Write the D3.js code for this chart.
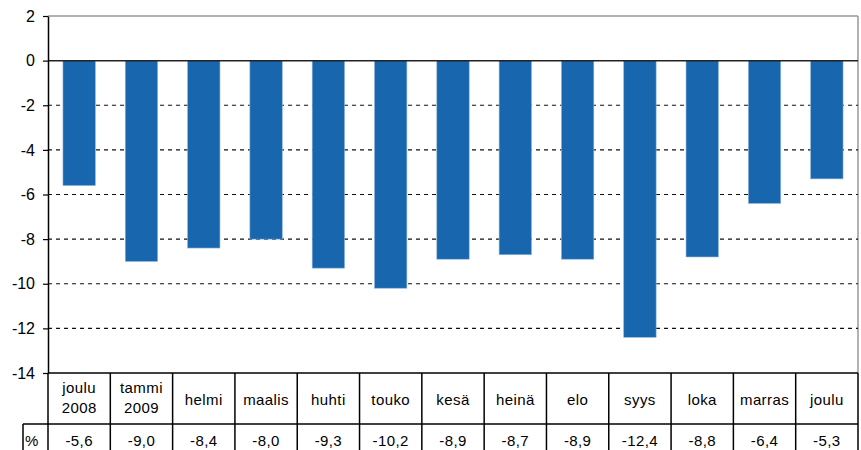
<!DOCTYPE html>
<html>
<head>
<meta charset="utf-8">
<script src="https://cdn.jsdelivr.net/npm/d3@7"></script>
<style>
  body { margin: 0; background: #fff; }
  text { font-family: "Liberation Sans", Arial, sans-serif; }
</style>
</head>
<body>
<div id="chart"></div>
<script>
// data
var months = ['joulu\n2008', 'tammi\n2009', 'helmi', 'maalis', 'huhti', 'touko', 'kesä', 'heinä', 'elo', 'syys', 'loka', 'marras', 'joulu'];
var values = [-5.6, -9.0, -8.4, -8.0, -9.3, -10.2, -8.9, -8.7, -8.9, -12.4, -8.8, -6.4, -5.3];
var yTicks = [2, 0, -2, -4, -6, -8, -10, -12, -14];
var rowLabel = '%';

var W = 861, H = 450;
var plotL = 48, plotR = 858, plotT = 16, plotB = 373;
var row1 = 424;

var svg = d3.select('#chart')
    .append('svg')
    .attr('width', W)
    .attr('height', H);

var x = d3.scaleBand()
    .domain(months)
    .range([plotL, plotR])
    .paddingInner(0.48)
    .paddingOuter(0.24);

var y = d3.scaleLinear()
    .domain([-14, 2])
    .range([plotB, plotT]);

var step = x.step();
function cellLeft(d) { return x(d) - step * x.paddingInner() / 2; }

// plot frame (top + right, gray)
svg.append('line')
    .attr('x1', plotL).attr('x2', plotR)
    .attr('y1', y(2)).attr('y2', y(2))
    .attr('stroke', '#999').attr('stroke-width', 1.5);
svg.append('line')
    .attr('x1', plotR).attr('x2', plotR)
    .attr('y1', y(2)).attr('y2', y(-14))
    .attr('stroke', '#999').attr('stroke-width', 1.5);

// dashed gridlines
svg.selectAll('.grid')
    .data(yTicks.filter(function (d) { return d < 0 && d > -14; }))
    .enter()
    .append('line')
    .attr('class', 'grid')
    .attr('x1', plotL).attr('x2', plotR)
    .attr('y1', function (d) { return y(d); })
    .attr('y2', function (d) { return y(d); })
    .attr('stroke', '#111')
    .attr('stroke-width', 1.2)
    .attr('stroke-dasharray', '4,4');

// bars
svg.selectAll('rect.bar')
    .data(values)
    .enter()
    .append('rect')
    .attr('class', 'bar')
    .attr('x', function (d, i) { return x(months[i]); })
    .attr('y', y(0))
    .attr('width', x.bandwidth())
    .attr('height', function (d) { return y(d) - y(0); })
    .attr('fill', '#1866ae')
    .attr('stroke', '#8fb6dc')
    .attr('stroke-width', 0.6);

// zero line
svg.append('line')
    .attr('x1', plotL).attr('x2', plotR)
    .attr('y1', y(0)).attr('y2', y(0))
    .attr('stroke', '#222').attr('stroke-width', 1.5);

// y axis
var yAxis = svg.append('g')
    .attr('transform', 'translate(' + plotL + ',0)')
    .call(d3.axisLeft(y).tickValues(yTicks).tickSize(5).tickSizeOuter(0).tickFormat(function (d) { return d; }));
yAxis.select('.domain').attr('stroke', '#000').attr('stroke-width', 1.5);
yAxis.selectAll('.tick line').attr('stroke', '#000').attr('stroke-width', 1.2);
yAxis.selectAll('.tick text')
    .attr('x', -13)
    .attr('font-size', '16px')
    .attr('fill', '#000')
    .style('font-family', '"Liberation Sans", Arial, sans-serif');

// data table
var tbl = svg.append('g');
var lineCol = '#000';

tbl.append('line')
    .attr('x1', plotL).attr('x2', plotR)
    .attr('y1', plotB).attr('y2', plotB)
    .attr('stroke', lineCol).attr('stroke-width', 1.5);
tbl.append('line')
    .attr('x1', 23).attr('x2', plotR)
    .attr('y1', row1).attr('y2', row1)
    .attr('stroke', lineCol).attr('stroke-width', 1.5);
tbl.append('line')
    .attr('x1', plotL).attr('x2', plotL)
    .attr('y1', plotB).attr('y2', H + 10)
    .attr('stroke', lineCol).attr('stroke-width', 1.5);
tbl.append('line')
    .attr('x1', 23).attr('x2', 23)
    .attr('y1', row1).attr('y2', H + 10)
    .attr('stroke', lineCol).attr('stroke-width', 1.5);

tbl.selectAll('.vsep')
    .data(months)
    .enter()
    .append('line')
    .attr('class', 'vsep')
    .attr('x1', function (d) { return cellLeft(d) + step; })
    .attr('x2', function (d) { return cellLeft(d) + step; })
    .attr('y1', plotB).attr('y2', H + 10)
    .attr('stroke', lineCol).attr('stroke-width', 1.5);

// month labels
tbl.selectAll('.mlab')
    .data(months)
    .enter()
    .append('text')
    .attr('class', 'mlab')
    .attr('text-anchor', 'middle')
    .attr('font-size', '15px')
    .attr('letter-spacing', '0.4px')
    .attr('fill', '#000')
    .each(function (d) {
        var parts = d.split('\n');
        var cx = cellLeft(d) + step / 2;
        var t = d3.select(this);
        var y0 = parts.length > 1 ? 393 : 405;
        parts.forEach(function (p, k) {
            t.append('tspan')
                .attr('x', cx)
                .attr('y', y0 + k * 20)
                .text(p);
        });
    });

// value row
tbl.append('text')
    .attr('x', 25)
    .attr('y', 446)
    .attr('font-size', '15px')
    .attr('fill', '#000')
    .text(rowLabel);

tbl.selectAll('.vlab')
    .data(values)
    .enter()
    .append('text')
    .attr('class', 'vlab')
    .attr('x', function (d, i) { return cellLeft(months[i]) + step / 2; })
    .attr('y', 446)
    .attr('text-anchor', 'middle')
    .attr('font-size', '15px')
    .attr('letter-spacing', '0.4px')
    .attr('fill', '#000')
    .text(function (d) { return d3.format('.1f')(d).replace('.', ',').replace('−', '-'); });
</script>
</body>
</html>
